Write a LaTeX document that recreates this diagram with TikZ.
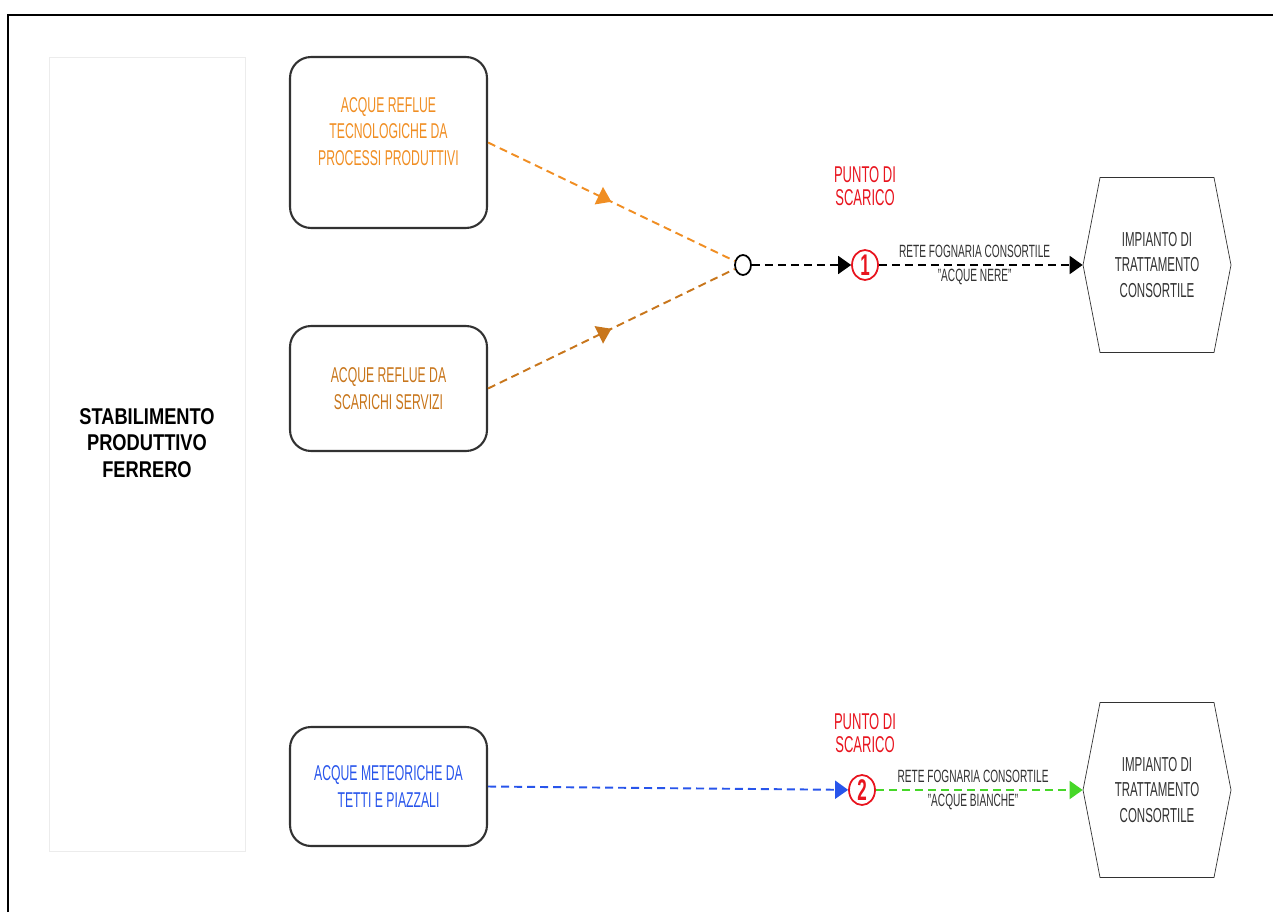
\documentclass[tikz,border=0pt]{standalone}
\usepackage{fontspec}
\setmainfont{Liberation Sans}[FakeStretch=0.57]
\newfontfamily\widefont{Liberation Sans}[FakeStretch=0.8]
\usetikzlibrary{arrows.meta,shapes.geometric,shapes.symbols,decorations.markings}
\definecolor{aorange}{RGB}{240,142,35}
\definecolor{abrown}{RGB}{200,118,28}
\definecolor{ablue}{RGB}{40,85,235}
\definecolor{agreen}{RGB}{70,215,40}
\definecolor{ared}{RGB}{232,20,30}
\definecolor{agray}{RGB}{50,50,50}
\tikzstyle{srcbox}=[rectangle, draw=agray, line width=1.2pt, rounded corners=0.42cm, minimum width=3.94cm, align=center, font=\fontsize{12.2}{15}\selectfont]
\tikzstyle{plantbox}=[signal, signal to=east and west, signal pointer angle=158, draw=agray, thin, minimum width=2.96cm, minimum height=3.5cm, align=center, text=agray, font=\fontsize{11.5}{14.5}\selectfont]
\tikzstyle{outletnode}=[ellipse, draw=ared, line width=1pt, minimum width=0.52cm, minimum height=0.6cm, inner sep=0pt, text=ared, font=\fontsize{17}{17}\selectfont\bfseries]
\tikzstyle{punto}=[align=center, text=ared, font=\fontsize{13}{13}\selectfont]
\tikzstyle{netlabel}=[align=center, text=agray, font=\fontsize{10.1}{14}\selectfont]
\tikzstyle{flowline}=[dash pattern=on 0.16cm off 0.1cm, line width=1.1pt]
\tikzstyle{flowtip}=[-{Triangle[length=0.26cm,width=0.36cm]}]
\tikzstyle{midtip}=[postaction={decorate}, decoration={markings, mark=at position 0.5 with {\arrow{Triangle[length=0.28cm,width=0.38cm]}}}]

\begin{document}
\begin{tikzpicture}[x=0.02cm, y=-0.02cm]

\useasboundingbox (0,0) rectangle (1273,912);
\draw[line width=1pt] (8,912) -- (8,15) -- (1273,15);

\node[draw=gray!15, minimum width=3.92cm, minimum height=15.88cm, align=center, text depth=0.44cm,
      font=\widefont\bfseries\fontsize{13}{15}\selectfont] (stab) at (147,454)
      {STABILIMENTO\\PRODUTTIVO\\FERRERO};

\node[srcbox, minimum height=3.42cm, text depth=0.44cm, text=aorange] (a) at (388.5,142.5) {ACQUE REFLUE\\TECNOLOGICHE DA\\PROCESSI PRODUTTIVI};
\node[srcbox, minimum height=2.5cm, text=abrown] (b) at (388.5,388.5) {ACQUE REFLUE DA\\SCARICHI SERVIZI};
\node[srcbox, minimum height=2.38cm, text=ablue] (c) at (388.5,786.5) {ACQUE METEORICHE DA\\TETTI E PIAZZALI};

\node[ellipse, draw, line width=1pt, minimum width=0.32cm, minimum height=0.4cm, inner sep=0pt] (j) at (743,265) {};

\node[outletnode] (o1) at (865,265) {1};
\node[punto] at (865,186.5) {PUNTO DI\\SCARICO};
\node[outletnode] (o2) at (862,790) {2};
\node[punto] at (865,733) {PUNTO DI\\SCARICO};

\node[plantbox] (h1) at (1157,265) {IMPIANTO DI\\TRATTAMENTO\\CONSORTILE};
\node[plantbox] (h2) at (1157,790) {IMPIANTO DI\\TRATTAMENTO\\CONSORTILE};

\draw[flowline, aorange, midtip] (a.east) -- (j);
\draw[flowline, abrown, midtip] (b.east) -- (j);
\draw[flowline, flowtip] (j) -- (o1);
\draw[flowline, flowtip] (o1) -- (h1.west) node[netlabel, pos=0.47] {RETE FOGNARIA CONSORTILE\\"ACQUE NERE"};

\draw[flowline, ablue, flowtip] (c.east) -- (o2);
\draw[flowline, agreen, flowtip] (o2) -- (h2.west) node[netlabel, pos=0.47] {RETE FOGNARIA CONSORTILE\\"ACQUE BIANCHE"};

\end{tikzpicture}
\end{document}
